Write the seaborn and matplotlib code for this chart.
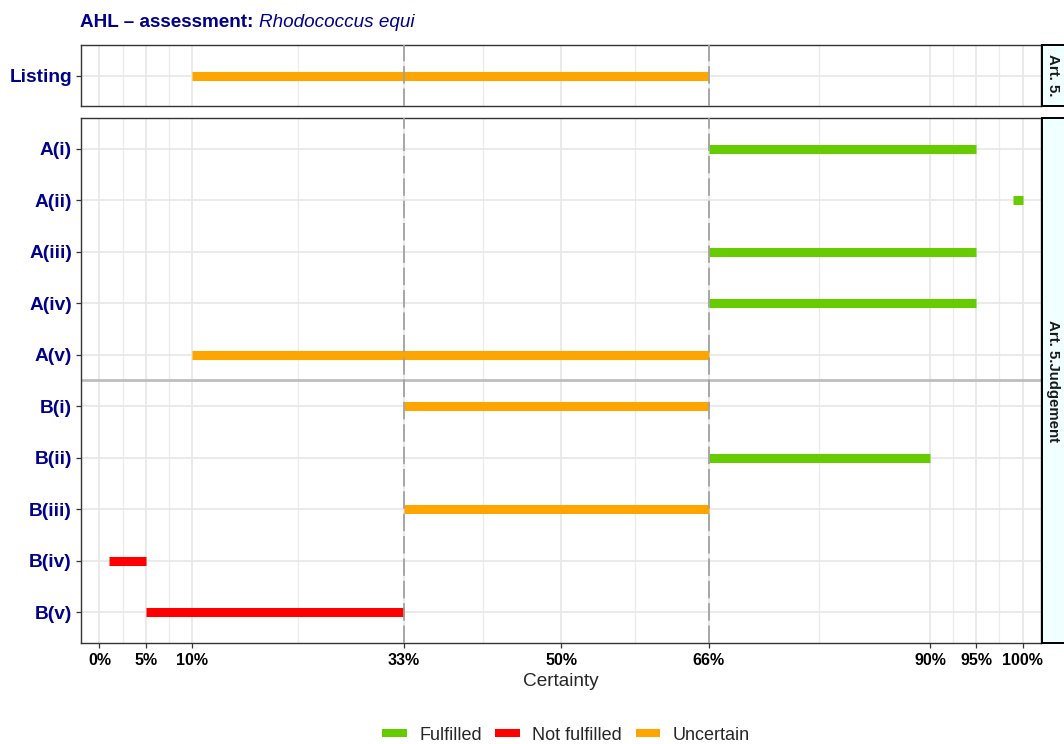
import pandas as pd
import matplotlib
matplotlib.use("Agg")
import matplotlib.pyplot as plt
import seaborn as sns
from matplotlib.lines import Line2D
from matplotlib.patches import Rectangle

# Data
listing_items = ["Listing"]
listing_start = [10]
listing_end = [66]
listing_status = ["Uncertain"]

judgement_items = ["A(i)", "A(ii)", "A(iii)", "A(iv)", "A(v)",
                   "B(i)", "B(ii)", "B(iii)", "B(iv)", "B(v)"]
judgement_start = [66, 99, 66, 66, 10, 33, 66, 33, 1, 5]
judgement_end = [95, 100, 95, 95, 66, 66, 90, 66, 5, 33]
judgement_status = ["Fulfilled", "Fulfilled", "Fulfilled", "Fulfilled", "Uncertain",
                    "Uncertain", "Fulfilled", "Uncertain", "Not fulfilled", "Not fulfilled"]

x_breaks = [0, 5, 10, 33, 50, 66, 90, 95, 100]
x_labels = ["0%", "5%", "10%", "33%", "50%", "66%", "90%", "95%", "100%"]
threshold_lines = [33, 66]

status_order = ["Fulfilled", "Not fulfilled", "Uncertain"]
palette = {"Fulfilled": "#66CC00", "Not fulfilled": "#FF0000", "Uncertain": "#FFA500"}

NAVY = "#00008B"


def long_frame(items, starts, ends, status):
    rows = []
    for i, (it, s, e, st) in enumerate(zip(items, starts, ends, status)):
        rows.append({"item": it, "pos": i, "value": s, "status": st})
        rows.append({"item": it, "pos": i, "value": e, "status": st})
    return pd.DataFrame(rows)


sns.set_style("white")
plt.rcParams["font.family"] = ["Liberation Sans", "DejaVu Sans"]

W, H = 1064, 744
fig = plt.figure(figsize=(W / 100, H / 100), dpi=100)


def px_axes(left, top, right, bottom):
    return fig.add_axes([left / W, 1 - bottom / H, (right - left) / W, (bottom - top) / H])


ax_top = px_axes(81, 45, 1041, 106)
ax_bot = px_axes(81, 118, 1041, 643)

minor_breaks = [(a + b) / 2 for a, b in zip(x_breaks[:-1], x_breaks[1:])]

panels = [
    (ax_top, listing_items, listing_start, listing_end, listing_status, "Art. 5."),
    (ax_bot, judgement_items, judgement_start, judgement_end, judgement_status, "Art. 5.Judgement"),
]

for ax, items, starts, ends, status, strip in panels:
    df = long_frame(items, starts, ends, status)
    # grid
    for xb in minor_breaks:
        ax.axvline(xb, color="#EBEBEB", lw=0.9, zorder=0)
    for xb in x_breaks:
        ax.axvline(xb, color="#E8E8E8", lw=1.3, zorder=0)
    for yb in range(len(items)):
        ax.axhline(yb, color="#E8E8E8", lw=1.3, zorder=0)

    sns.lineplot(data=df, x="value", y="pos", hue="status", units="item",
                 estimator=None, sort=False, palette=palette, hue_order=status_order,
                 linewidth=6.5, solid_capstyle="butt", legend=False, ax=ax, zorder=3)

    for t in threshold_lines:
        ax.axvline(t, color="#A0A0A0", lw=1.4, ls=(0, (9, 2.5)), zorder=4, alpha=0.9)

    ax.set_xlim(-2, 102)
    ax.set_ylim(len(items) - 1 + 0.6, -0.6)
    ax.set_yticks(range(len(items)))
    ax.set_yticklabels(items, fontsize=13.8, fontweight="bold", color=NAVY)
    ax.set_xticks(x_breaks)
    ax.set_xlabel("")
    ax.set_ylabel("")
    for sp in ax.spines.values():
        sp.set_color("#333333")
        sp.set_linewidth(1.0)
    ax.tick_params(axis="y", length=3.5, width=0.9, color="#333333", pad=3, left=True)
    ax.tick_params(axis="x", length=3.5, width=0.9, color="#333333", pad=4, bottom=True)

    # facet strip on the right
    pos = ax.get_position()
    fig.add_artist(Rectangle((1042 / W, pos.y0), 40 / W, pos.height,
                             transform=fig.transFigure, facecolor="#F0FFFF",
                             edgecolor="black", lw=1.4, clip_on=False))
    fig.text(1053 / W, pos.y0 + pos.height / 2, strip, rotation=270,
             ha="center", va="center", fontsize=10.8, fontweight="bold", color="#1A1A1A")

# separator between A and B groups
ax_bot.axhline(4.5, color="#BEBEBE", lw=2.0, zorder=2)

ax_top.set_xticklabels([])
ax_top.tick_params(axis="x", length=0)
ax_bot.set_xticklabels(x_labels, fontsize=11.5, fontweight="bold", color="black")
ax_bot.set_xlabel("Certainty", fontsize=13.7, labelpad=3)

# title: bold prefix + italic species name
fig.canvas.draw()
t1 = fig.text(80 / W, 1 - 27 / H, "AHL \u2013 assessment: ", fontsize=13.6,
              fontweight="bold", color=NAVY, va="baseline", ha="left")
fig.canvas.draw()
bb = t1.get_window_extent()
fig.text(bb.x1 / W, 1 - 27 / H, "Rhodococcus equi", fontsize=13.6,
         fontstyle="italic", color=NAVY, va="baseline", ha="left")

handles = [Line2D([0], [0], color=palette[s], lw=5.8, solid_capstyle="butt") for s in status_order]
fig.legend(handles, status_order, loc="center", bbox_to_anchor=(566 / W, 1 - 735 / H),
           ncol=3, frameon=False, fontsize=13, handlelength=1.35, handletextpad=0.7,
           columnspacing=0.75)

fig.savefig("out.png", dpi=100)
